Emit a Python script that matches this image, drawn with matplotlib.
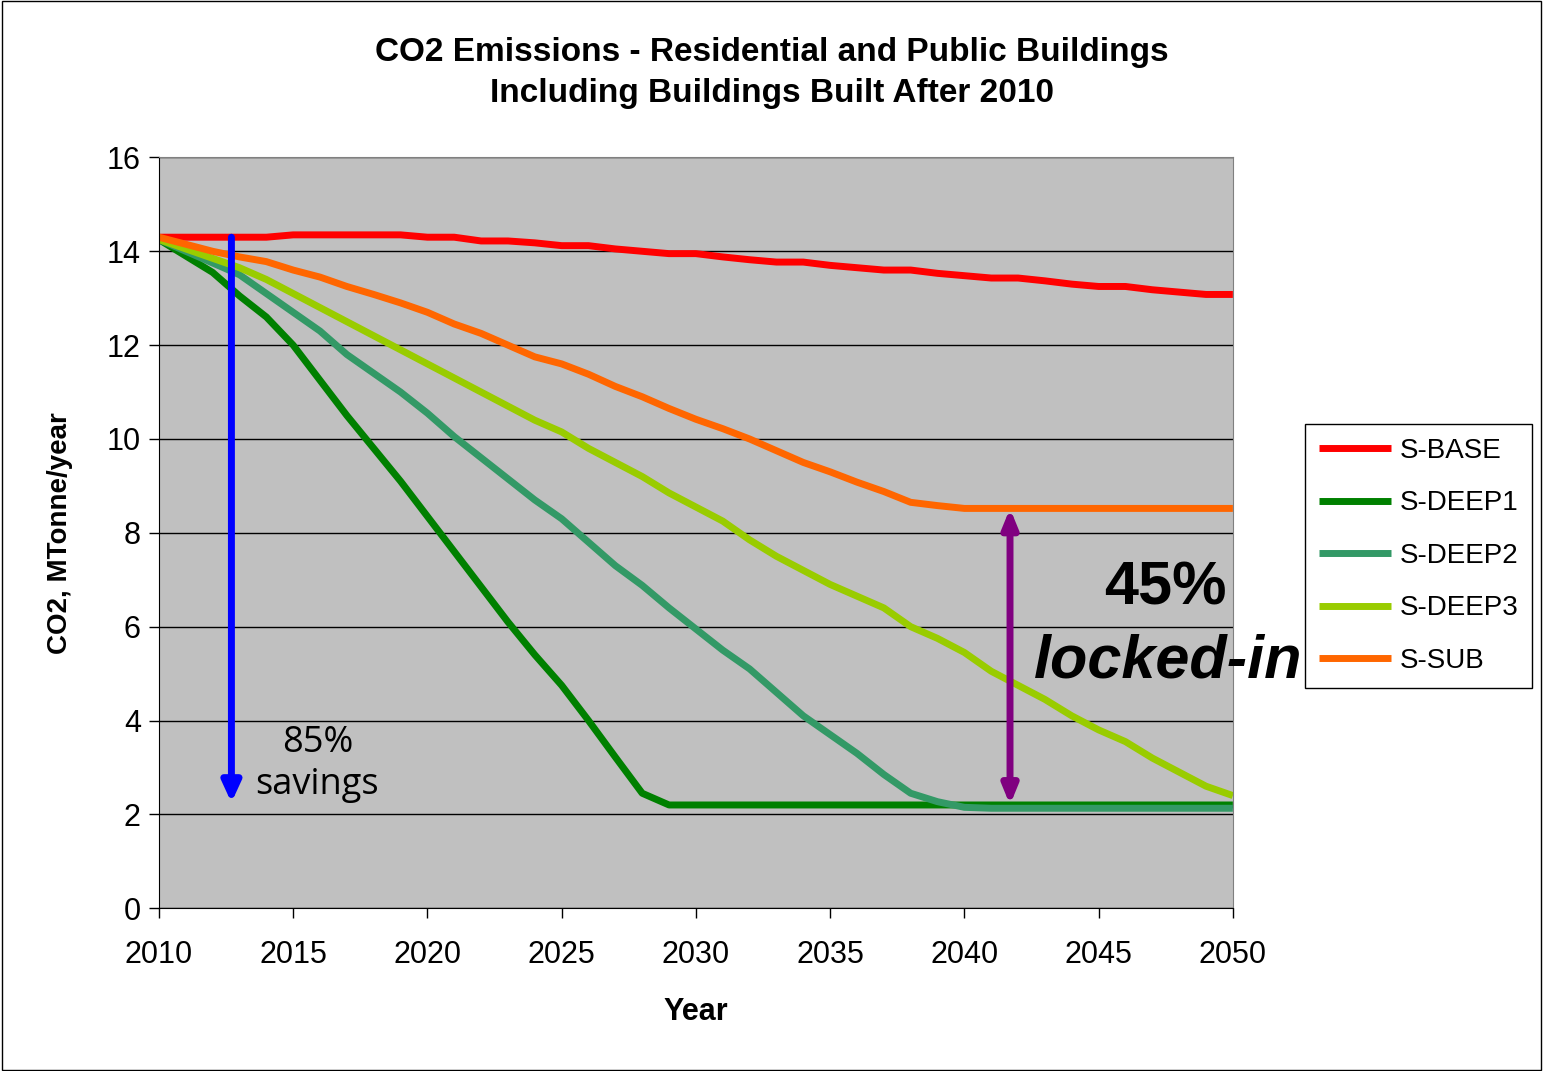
import numpy as np
import matplotlib
matplotlib.use("Agg")
import matplotlib.pyplot as plt
from matplotlib.patches import Rectangle

plt.rcParams['font.family'] = ['Liberation Sans', 'DejaVu Sans']

# years 2010..2050
years = np.arange(2010, 2051)

s_base = [14.3, 14.3, 14.3, 14.3, 14.3, 14.35, 14.35, 14.35, 14.35, 14.35,
          14.3, 14.3, 14.22, 14.22, 14.18, 14.12, 14.12, 14.05, 14.0, 13.95,
          13.95, 13.88, 13.82, 13.77, 13.77, 13.7, 13.65, 13.6, 13.6, 13.53,
          13.48, 13.43, 13.43, 13.37, 13.3, 13.25, 13.25, 13.18, 13.13, 13.08,
          13.08]
s_deep1 = [14.25, 13.9, 13.55, 13.05, 12.6, 12.0, 11.25, 10.5, 9.8, 9.1,
           8.35, 7.6, 6.85, 6.1, 5.4, 4.75, 4.0, 3.22, 2.45, 2.2,
           2.2, 2.2, 2.2, 2.2, 2.2, 2.2, 2.2, 2.2, 2.2, 2.2,
           2.2, 2.2, 2.2, 2.2, 2.2, 2.2, 2.2, 2.2, 2.2, 2.2,
           2.2]
s_deep2 = [14.25, 14.0, 13.75, 13.5, 13.1, 12.7, 12.3, 11.8, 11.4, 11.0,
           10.55, 10.05, 9.6, 9.15, 8.7, 8.3, 7.8, 7.3, 6.88, 6.4,
           5.95, 5.5, 5.1, 4.6, 4.1, 3.7, 3.3, 2.85, 2.45, 2.27,
           2.15, 2.13, 2.13, 2.13, 2.13, 2.13, 2.13, 2.13, 2.13, 2.13,
           2.13]
s_deep3 = [14.25, 14.05, 13.85, 13.65, 13.4, 13.1, 12.8, 12.5, 12.2, 11.9,
           11.6, 11.3, 11.0, 10.7, 10.4, 10.15, 9.8, 9.5, 9.2, 8.85,
           8.55, 8.25, 7.85, 7.5, 7.2, 6.9, 6.65, 6.4, 6.0, 5.75,
           5.45, 5.05, 4.75, 4.45, 4.1, 3.8, 3.55, 3.2, 2.9, 2.6,
           2.4]
s_sub = [14.3, 14.15, 14.0, 13.88, 13.78, 13.6, 13.45, 13.25, 13.08, 12.9,
         12.7, 12.45, 12.25, 12.0, 11.75, 11.6, 11.38, 11.12, 10.9, 10.65,
         10.42, 10.22, 10.0, 9.75, 9.5, 9.3, 9.08, 8.88, 8.65, 8.58,
         8.52, 8.52, 8.52, 8.52, 8.52, 8.52, 8.52, 8.52, 8.52, 8.52,
         8.52]

series = [("S-BASE", s_base, "#FF0000"),
          ("S-DEEP1", s_deep1, "#008000"),
          ("S-DEEP2", s_deep2, "#339966"),
          ("S-DEEP3", s_deep3, "#99CC00"),
          ("S-SUB", s_sub, "#FF6600")]

fig = plt.figure(figsize=(15.43, 10.71), dpi=100)
ax = fig.add_axes([0.103, 0.152, 0.696, 0.701])
ax.set_facecolor("#C0C0C0")

for name, vals, col in series:
    ax.plot(years, vals, color=col, lw=5, label=name, solid_capstyle="butt")

ax.set_xlim(2010, 2050)
ax.set_ylim(0, 16)
ax.set_xticks(range(2010, 2051, 5))
ax.set_yticks(range(0, 17, 2))
ax.yaxis.grid(True, color="black", lw=1)
ax.set_axisbelow(True)
ax.tick_params(axis="both", labelsize=22, length=7, width=1, direction="out")
ax.tick_params(axis="x", pad=16)
ax.tick_params(axis="y", pad=6)
for s in ["top", "right"]:
    ax.spines[s].set_color("#808080")

ax.set_xlabel("Year", fontsize=22, fontweight="bold", labelpad=19)
ax.set_ylabel("CO2, MTonne/year", fontsize=20, fontweight="bold", labelpad=24)
fig.suptitle("CO2 Emissions - Residential and Public Buildings\nIncluding Buildings Built After 2010",
             fontsize=24, fontweight="bold", y=0.965, linespacing=1.4)

# savings arrow
ax.annotate("", xy=(2012.7, 2.25), xytext=(2012.7, 14.3),
            arrowprops=dict(arrowstyle="-|>,head_width=0.55,head_length=1.2",
                            color="#0000FF", lw=5, shrinkA=0, shrinkB=0))
ax.text(2015.9, 3.07, "85%\nsavings", fontsize=26, ha="center", va="center",
        family=["Open Sans", "DejaVu Sans"], linespacing=1.2)

# locked-in arrow
ax.annotate("", xy=(2041.7, 8.52), xytext=(2041.7, 2.2),
            arrowprops=dict(arrowstyle="<|-|>,head_width=0.45,head_length=1.1",
                            color="#800080", lw=5, shrinkA=0, shrinkB=0))
ax.text(2049.75, 6.8, "45%", fontsize=44, fontweight="bold", ha="right", va="center")
ax.text(2047.6, 5.25, "locked-in", fontsize=44, fontweight="bold", style="italic",
        ha="center", va="center", clip_on=False)

leg = fig.legend(loc="center left", bbox_to_anchor=(0.846, 0.481), fontsize=20,
                 frameon=True, fancybox=False, edgecolor="black", framealpha=1,
                 handlelength=2.6, labelspacing=0.95, borderpad=0.5,
                 handletextpad=0.3, borderaxespad=0)
leg.get_frame().set_linewidth(1)

# outer border
fig.patches.append(Rectangle((0.001, 0.001), 0.998, 0.998, transform=fig.transFigure,
                             fill=False, edgecolor="black", lw=1))

fig.savefig("out.png", dpi=100)
